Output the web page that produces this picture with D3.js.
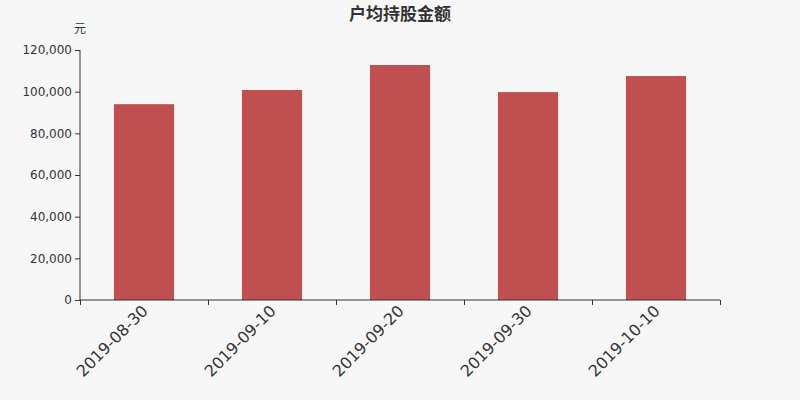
<!DOCTYPE html>
<html><head><meta charset="utf-8">
<script src="https://cdn.jsdelivr.net/npm/d3@7/dist/d3.min.js"></script>
<style>body{margin:0;background:#f7f7f7;}svg{display:block;font-family:"DejaVu Sans","Noto Sans CJK SC",sans-serif;}</style>
</head><body><svg id="c" width="800" height="400"></svg>
<script>
const categories = ["2019-08-30","2019-09-10","2019-09-20","2019-09-30","2019-10-10"];
const values = [94000, 100800, 112800, 99800, 107500];
const yTicks = [0,20000,40000,60000,80000,100000,120000];
const title = "户均持股金额";
const unit = "元";

const svg = d3.select("#c");
svg.append("rect").attr("width",800).attr("height",400).attr("fill","#f7f7f7");
const x = d3.scaleBand().domain(categories).range([80,720]).paddingInner(0.53).paddingOuter(0.265);
const y = d3.scaleLinear().domain([0,120000]).range([300,50]);

svg.append("g").selectAll("rect").data(values).join("rect")
  .attr("x",(d,i)=>x(categories[i])).attr("width",x.bandwidth())
  .attr("y",d=>y(d)).attr("height",d=>y(0)-y(d)).attr("fill","#c0504f");

const ya = svg.append("g").attr("transform","translate(80,0)")
  .call(d3.axisLeft(y).tickValues(yTicks).tickFormat(d3.format(",")).tickSize(5).tickPadding(3));
ya.select(".domain").attr("stroke","#333").attr("d","M0,50V300");
ya.selectAll(".tick line").attr("stroke","#333");
ya.selectAll("text").attr("fill","#333").attr("font-size",12).attr("font-family","DejaVu Sans");

const xs = d3.scaleLinear().domain([0,5]).range([80,720]);
const xa = svg.append("g").attr("transform","translate(0,300)")
  .call(d3.axisBottom(xs).tickValues([0,1,2,3,4,5]).tickFormat("").tickSize(5));
xa.select(".domain").attr("stroke","#333").attr("d","M80,0H720");
xa.selectAll(".tick line").attr("stroke","#333");

svg.append("g").selectAll("text").data(categories).join("text")
  .attr("transform",d=>`translate(${x(d)+x.bandwidth()/2+1},${308}) rotate(-45)`)
  .attr("text-anchor","end").attr("dy","0.35em")
  .attr("font-size",16).attr("fill","#333").text(d=>d);

svg.append("text").attr("x",400).attr("y",20).attr("text-anchor","middle")
  .attr("font-size",17).attr("font-weight","bold").attr("fill","#333").text(title);
svg.append("text").attr("x",80).attr("y",33).attr("text-anchor","middle")
  .attr("font-size",12).attr("fill","#333").text(unit);
</script></body></html>
